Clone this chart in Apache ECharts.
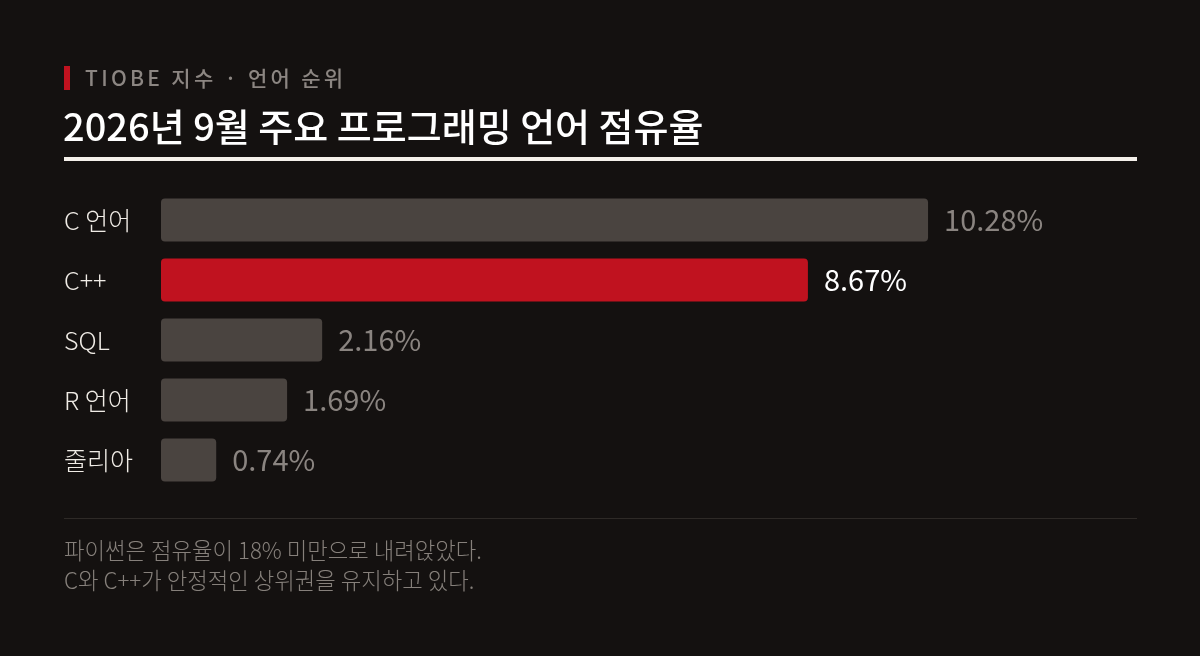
<!DOCTYPE html>
<html><head><meta charset="utf-8">
<script src="https://cdn.jsdelivr.net/npm/echarts@6/dist/echarts.min.js"></script>
<style>html,body{margin:0;padding:0;background:#141110;}#c{width:1200px;height:656px;}</style>
</head><body><div id="c"></div>
<script>
const categories = ['C 언어', 'C++', 'SQL', 'R 언어', '줄리아'];
const values = [10.28, 8.67, 2.16, 1.69, 0.74];
const highlight = 'C++';
const FONT = '"Noto Sans CJK KR","Noto Sans",sans-serif';

const ctx = document.createElement('canvas').getContext('2d');
function spaced(str, x, y, font, fill, spacing) {
  ctx.font = font;
  const children = [];
  let cx = 0;
  for (const ch of str) {
    children.push({type:'text', x:cx, y:0, style:{text:ch, font:font, fill:fill, textVerticalAlign:'middle'}});
    cx += ctx.measureText(ch).width + spacing;
  }
  return {type:'group', x:x, y:y, children:children};
}

const chart = echarts.init(document.getElementById('c'));
chart.setOption({
  backgroundColor: '#141110',
  animation: false,
  graphic: [
    {type:'rect', shape:{x:64,y:66,width:6,height:24}, style:{fill:'#c0121f'}},
    spaced('TIOBE 지수 · 언어 순위', 85, 78, '500 21px '+FONT, '#8c8682', 3.3),
    {type:'text', x:63, y:127, style:{text:'2026년 9월 주요 프로그래밍 언어 점유율', fill:'#ffffff', font:'500 38px '+FONT, textVerticalAlign:'middle'}},
    {type:'rect', shape:{x:64,y:157,width:1073,height:4}, style:{fill:'#f4f0ea'}},
    {type:'rect', shape:{x:64,y:518,width:1073,height:1}, style:{fill:'#2e2a27'}},
    {type:'text', x:64, y:551, style:{text:'파이썬은 점유율이 18% 미만으로 내려앉았다.', fill:'#86807b', font:'300 22.3px '+FONT, textVerticalAlign:'middle'}},
    {type:'text', x:64, y:581, style:{text:'C와 C++가 안정적인 상위권을 유지하고 있다.', fill:'#86807b', font:'300 22.3px '+FONT, textVerticalAlign:'middle'}}
  ],
  grid: {left:161, right:69, top:190, bottom:166, containLabel:false},
  xAxis: {type:'value', min:0, max:13, show:false},
  yAxis: {
    type:'category', data:categories, inverse:true,
    axisLine:{show:false}, axisTick:{show:false}, splitLine:{show:false},
    axisLabel:{align:'left', margin:97, color:'#f0ece6', fontSize:25, fontFamily:FONT, fontWeight:300}
  },
  series: [{
    type:'bar', barWidth:43,
    data: values.map((v,i)=>({
      value:v,
      itemStyle:{color: categories[i]===highlight ? '#c0121f' : '#4a4440', borderRadius:4},
      label:{color: categories[i]===highlight ? '#ffffff' : '#8a8480'}
    })),
    label:{show:true, position:'right', distance:16, fontSize:29, fontFamily:FONT, fontWeight:400,
      formatter: p => p.value.toFixed(2)+'%'}
  }]
});
</script></body></html>
